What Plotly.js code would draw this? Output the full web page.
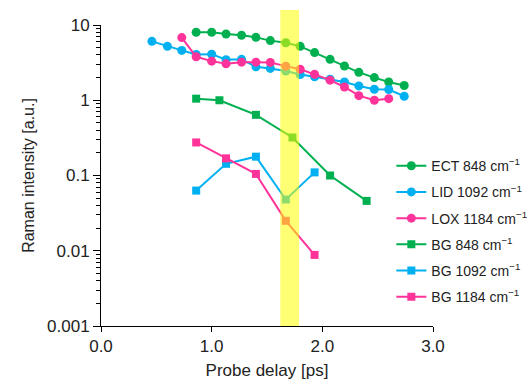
<!DOCTYPE html>
<html>
<head>
<meta charset="utf-8">
<script src="https://cdn.plot.ly/plotly-3.0.1.min.js"></script>
<style>html,body{margin:0;padding:0;background:#fff;}#chart{width:531px;height:383px;}</style>
</head>
<body>
<div id="chart"></div>
<script>
// Data
const ectX = [0.86, 1.0, 1.13, 1.27, 1.4, 1.53, 1.67, 1.8, 1.93, 2.07, 2.2, 2.33, 2.47, 2.6, 2.74];
const ectY = [8.0, 8.0, 7.6, 7.3, 6.85, 6.2, 5.8, 5.2, 4.3, 3.5, 2.85, 2.35, 2.0, 1.75, 1.57];
const lidX = [0.46, 0.6, 0.73, 0.86, 1.0, 1.13, 1.27, 1.4, 1.53, 1.67, 1.8, 1.93, 2.07, 2.2, 2.33, 2.47, 2.6, 2.74];
const lidY = [6.06, 5.2, 4.6, 4.06, 4.1, 3.45, 3.5, 2.78, 2.65, 2.44, 2.2, 2.05, 1.9, 1.75, 1.55, 1.4, 1.39, 1.13];
const loxX = [0.73, 0.86, 1.0, 1.13, 1.27, 1.4, 1.53, 1.67, 1.8, 1.93, 2.07, 2.2, 2.33, 2.47, 2.6];
const loxY = [6.8, 3.78, 3.31, 3.05, 3.21, 3.21, 3.18, 2.84, 2.58, 2.21, 1.85, 1.5, 1.15, 1.0, 1.05];
const bg848X = [0.86, 1.07, 1.4, 1.73, 2.07, 2.4];
const bg848Y = [1.05, 1.0, 0.64, 0.32, 0.10, 0.046];
const bg1092X = [0.86, 1.13, 1.4, 1.67, 1.93];
const bg1092Y = [0.063, 0.143, 0.178, 0.048, 0.11];
const bg1184X = [0.86, 1.13, 1.4, 1.67, 1.93];
const bg1184Y = [0.275, 0.169, 0.105, 0.025, 0.0088];
const bandX = [1.62, 1.79];
const yTickVals = [0.001, 0.01, 0.1, 1, 10];
const yTickText = ['0.001', '0.01', '0.1', '1', '10'];
const xTickVals = [0, 1, 2, 3];
const names = ['ECT 848 cm<sup>−1</sup>', 'LID 1092 cm<sup>−1</sup>', 'LOX 1184 cm<sup>−1</sup>',
               'BG 848 cm<sup>−1</sup>', 'BG 1092 cm<sup>−1</sup>', 'BG 1184 cm<sup>−1</sup>'];

const GREEN = '#00B050', BLUE = '#00B0F0', PINK = '#FF3399';

function tr(x, y, name, color, symbol, size, g) {
  return {
    x: x, y: y, name: name, type: 'scatter', mode: 'lines+markers',
    line: {color: color, width: 2},
    marker: {color: color, symbol: symbol, size: size},
    legendgroup: g
  };
}

const data = [
  tr(ectX, ectY, names[0], GREEN, 'circle', 9, 'a'),
  tr(lidX, lidY, names[1], BLUE, 'circle', 9, 'b'),
  tr(loxX, loxY, names[2], PINK, 'circle', 9, 'c'),
  tr(bg848X, bg848Y, names[3], GREEN, 'square', 8, 'd'),
  tr(bg1092X, bg1092Y, names[4], BLUE, 'square', 8, 'e'),
  tr(bg1184X, bg1184Y, names[5], PINK, 'square', 8, 'f')
];

const font = {family: 'Liberation Sans, Arial, sans-serif', color: '#222'};

const layout = {
  width: 531, height: 383,
  margin: {l: 101, r: 98, t: 25, b: 57, pad: 0, autoexpand: false},
  paper_bgcolor: '#fff', plot_bgcolor: '#fff',
  font: font,
  showlegend: true,
  legend: {
    xref: 'container', yref: 'container',
    x: 0.737, y: 0.608, xanchor: 'left', yanchor: 'top',
    font: {family: font.family, size: 14, color: '#222'},
    tracegroupgap: 5, bgcolor: 'rgba(0,0,0,0)'
  },
  xaxis: {
    range: [0, 3], tickvals: xTickVals, tickformat: '.1f',
    showgrid: false, zeroline: false, showline: true, linecolor: '#000', linewidth: 1,
    ticks: 'outside', ticklen: 5, tickcolor: '#000',
    tickfont: {size: 17, color: '#222'},
    title: {text: 'Probe delay [ps]', font: {size: 17, color: '#222'}, standoff: 8}
  },
  yaxis: {
    type: 'log', range: [-3, 1], tickvals: yTickVals, ticktext: yTickText,
    showgrid: false, zeroline: false, showline: true, linecolor: '#000', linewidth: 1,
    ticks: 'outside', ticklen: 7, tickcolor: '#000',
    minor: {ticks: 'outside', ticklen: 4, tickcolor: '#000', dtick: 'D1', showgrid: false},
    tickfont: {size: 17, color: '#222'},
    title: {text: 'Raman intensity [a.u.]', font: {size: 16, color: '#222'}, standoff: 8}
  },
  shapes: [{
    type: 'rect', xref: 'x', yref: 'paper',
    x0: bandX[0], x1: bandX[1], y0: 0, y1: 1.05,
    fillcolor: 'rgba(255,255,0,0.55)', line: {width: 0}, layer: 'above'
  }]
};

Plotly.newPlot('chart', data, layout, {displayModeBar: false, staticPlot: true});
</script>
</body>
</html>
